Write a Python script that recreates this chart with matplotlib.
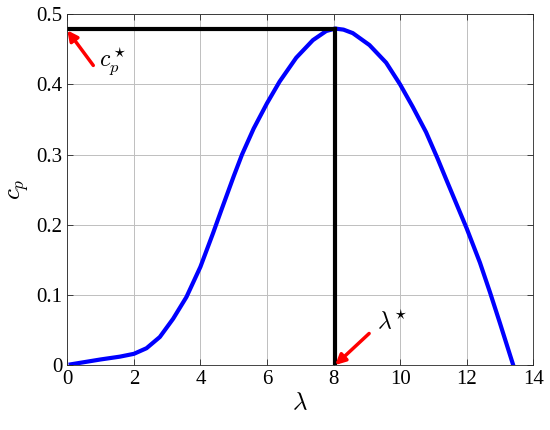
import numpy as np
import matplotlib
matplotlib.use("Agg")
import matplotlib.pyplot as plt

plt.rcParams["font.family"] = ["Liberation Serif", "DejaVu Serif"]
plt.rcParams["mathtext.fontset"] = "cm"

# cp(lambda) curve
lam = [0.1, 1.0, 1.58, 2.0, 2.38, 2.78, 3.18, 3.58, 4.0, 4.38, 4.63, 5.0,
       5.25, 5.6, 6.0, 6.38, 6.88, 7.38, 7.78, 8.05, 8.3, 8.58, 9.08, 9.58,
       10.0, 10.38, 10.78, 11.13, 11.4, 12.0, 12.4, 12.7, 13.0, 13.4]
cp = [0.001, 0.008, 0.012, 0.016, 0.024, 0.040, 0.066, 0.097, 0.140, 0.188,
      0.221, 0.269, 0.300, 0.337, 0.373, 0.404, 0.438, 0.463, 0.476, 0.4795,
      0.478, 0.473, 0.456, 0.431, 0.400, 0.368, 0.332, 0.294, 0.263, 0.195,
      0.146, 0.104, 0.060, 0.0]

lam_opt = 8.05
cp_opt = 0.4795

xticks = [0, 2, 4, 6, 8, 10, 12, 14]
yticks = [0, 0.1, 0.2, 0.3, 0.4, 0.5]
yticklabels = ["0", "0.1", "0.2", "0.3", "0.4", "0.5"]

fig = plt.figure(figsize=(5.5, 4.3), dpi=100)
ax = fig.add_axes([0.1224, 0.151, 0.847, 0.816])

ax.plot(lam, cp, "-", color="blue", lw=3, solid_joinstyle="round")
ax.plot([0, lam_opt], [cp_opt, cp_opt], "-", color="black", lw=3)
ax.plot([lam_opt, lam_opt], [0, cp_opt], "-", color="black", lw=3)

arrow = dict(arrowstyle="-|>,head_length=0.6,head_width=0.3", color="red",
             lw=2.5, shrinkA=0, shrinkB=0)
ax.annotate("", xy=(0.0, 0.477), xytext=(0.78, 0.427), arrowprops=arrow)
ax.annotate("", xy=(lam_opt, 0.0), xytext=(9.07, 0.045), arrowprops=arrow)
ax.text(0.95, 0.432, r"$c_p^\star$", fontsize=17, ha="left", va="center")
ax.text(9.3, 0.062, r"$\lambda^{\!\star}$", fontsize=17, ha="left", va="center")

ax.set_xlim(0, 14)
ax.set_ylim(0, 0.5)
ax.set_xticks(xticks)
ax.set_yticks(yticks)
ax.set_yticklabels(yticklabels)
ax.tick_params(direction="in", labelsize=15, length=4, width=0.6,
               top=True, right=True, colors="#262626", labelcolor="black")
ax.grid(True, color="#bfbfbf", lw=0.7)
for s in ax.spines.values():
    s.set_color("#262626")
    s.set_linewidth(0.6)

ax.set_xlabel(r"$\lambda$", fontsize=18, labelpad=2)
ax.set_ylabel(r"$c_p$", fontsize=18, labelpad=4)

fig.savefig("out.png", dpi=100)
